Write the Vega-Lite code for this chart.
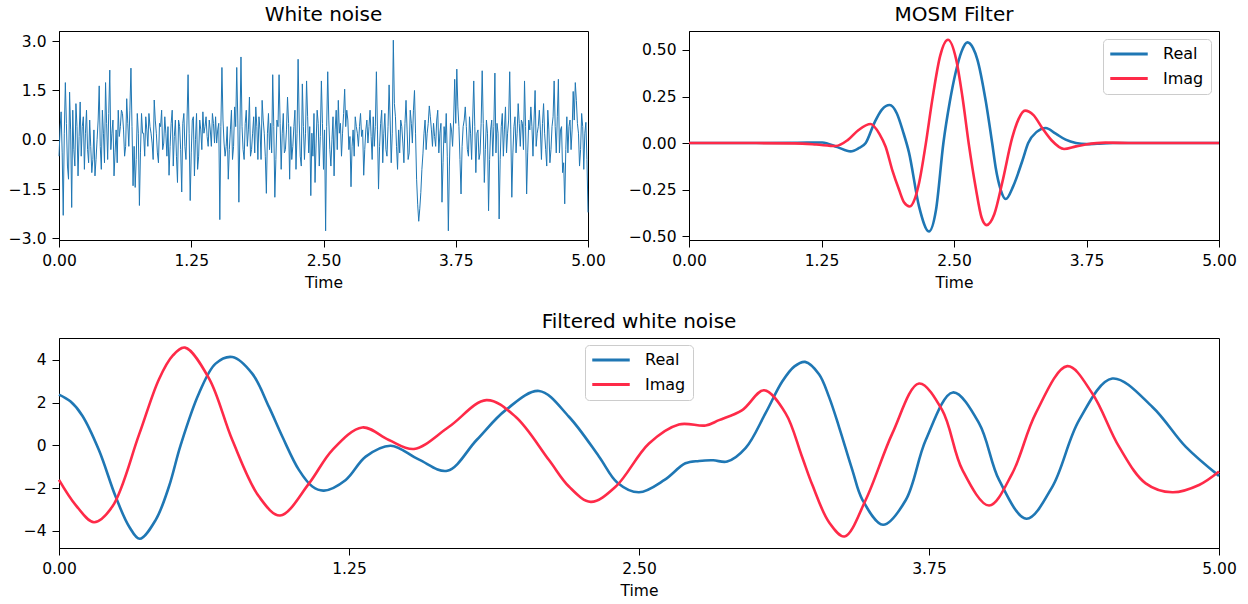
{
 "$schema": "https://vega.github.io/schema/vega-lite/v6.json",
 "background": "white",
 "padding": {"left": 7, "top": 4, "right": 5, "bottom": 5},
 "config": {
  "font": "DejaVu Sans",
  "view": {"stroke": "black", "strokeWidth": 1},
  "axis": {"domainColor": "black", "domainWidth": 1, "tickColor": "black", "tickWidth": 1, "tickSize": 7, "labelPadding": 6, "labelFontSize": 15.5, "labelColor": "black", "titleFontSize": 15.5, "titleFontWeight": "normal", "titleColor": "black", "titlePadding": 7, "grid": false, "labelFlush": false, "labelOverlap": false},
  "title": {"fontSize": 20, "fontWeight": "normal", "color": "black", "baseline": "alphabetic", "offset": 6, "anchor": "middle"},
  "legend": {"fillColor": "rgba(255,255,255,0.8)", "strokeColor": "#cccccc", "cornerRadius": 4, "padding": 7, "symbolSize": 156, "symbolStrokeWidth": 3, "symbolOffset": 11, "labelOffset": 26, "labelFontSize": 16, "labelColor": "black", "rowPadding": 8.5}
 },
 "datasets": {
  "noise": [
   {"t":0.00,"y":-0.5},{"t":0.01,"y":0.3},{"t":0.02,"y":0.85},{"t":0.03,"y":-0.4},{"t":0.04,"y":-2.3},{"t":0.05,"y":0.2},{"t":0.06,"y":1.74},{"t":0.07,"y":0.5},{"t":0.08,"y":-0.8},{"t":0.09,"y":-1.2},
   {"t":0.10,"y":1.45},{"t":0.11,"y":0.3},{"t":0.12,"y":-2.06},{"t":0.13,"y":0.9},{"t":0.14,"y":-0.3},{"t":0.15,"y":-0.8},{"t":0.16,"y":1.1},{"t":0.17,"y":0.4},{"t":0.18,"y":-1.1},{"t":0.19,"y":0.1},
   {"t":0.20,"y":1.15},{"t":0.21,"y":-0.5},{"t":0.22,"y":0.4},{"t":0.23,"y":0.7},{"t":0.24,"y":-0.9},{"t":0.25,"y":0.2},{"t":0.26,"y":0.9},{"t":0.27,"y":-0.3},{"t":0.28,"y":-0.7},{"t":0.29,"y":0.6},
   {"t":0.30,"y":-0.2},{"t":0.31,"y":-1.0},{"t":0.32,"y":-0.6},{"t":0.33,"y":0.3},{"t":0.34,"y":-1.1},{"t":0.35,"y":-0.6},{"t":0.36,"y":0.0},{"t":0.37,"y":0.6},{"t":0.38,"y":1.64},{"t":0.39,"y":-0.2},
   {"t":0.40,"y":-0.9},{"t":0.41,"y":0.9},{"t":0.42,"y":0.2},{"t":0.43,"y":-0.7},{"t":0.44,"y":1.74},{"t":0.45,"y":0.5},{"t":0.46,"y":-0.6},{"t":0.47,"y":0.8},{"t":0.48,"y":2.12},{"t":0.49,"y":-0.3},
   {"t":0.50,"y":0.2},{"t":0.51,"y":0.6},{"t":0.52,"y":-1.1},{"t":0.53,"y":-0.4},{"t":0.54,"y":0.3},{"t":0.55,"y":-0.7},{"t":0.56,"y":0.9},{"t":0.57,"y":0.1},{"t":0.58,"y":0.4},{"t":0.59,"y":0.9},
   {"t":0.60,"y":0.8},{"t":0.61,"y":0.3},{"t":0.62,"y":-0.5},{"t":0.63,"y":-0.2},{"t":0.64,"y":1.25},{"t":0.65,"y":0.5},{"t":0.66,"y":-0.2},{"t":0.67,"y":0.9},{"t":0.68,"y":2.18},{"t":0.69,"y":0.4},
   {"t":0.70,"y":-1.4},{"t":0.71,"y":-0.2},{"t":0.72,"y":-1.45},{"t":0.73,"y":-0.6},{"t":0.74,"y":0.8},{"t":0.75,"y":0.2},{"t":0.76,"y":-2.0},{"t":0.77,"y":-0.4},{"t":0.78,"y":0.8},{"t":0.79,"y":0.2},
   {"t":0.80,"y":0.2},{"t":0.81,"y":-0.5},{"t":0.82,"y":0.7},{"t":0.83,"y":0.3},{"t":0.84,"y":-0.2},{"t":0.85,"y":0.8},{"t":0.86,"y":0.4},{"t":0.87,"y":0.2},{"t":0.88,"y":-0.1},{"t":0.89,"y":-0.6},
   {"t":0.90,"y":1.21},{"t":0.91,"y":0.6},{"t":0.92,"y":0.2},{"t":0.93,"y":-0.4},{"t":0.94,"y":-0.7},{"t":0.95,"y":0.5},{"t":0.96,"y":0.4},{"t":0.97,"y":0.9},{"t":0.98,"y":-0.3},{"t":0.99,"y":-0.1},
   {"t":1.00,"y":0.7},{"t":1.01,"y":0.2},{"t":1.02,"y":-0.5},{"t":1.03,"y":0.4},{"t":1.04,"y":-1.08},{"t":1.05,"y":-0.2},{"t":1.06,"y":0.5},{"t":1.07,"y":0.9},{"t":1.08,"y":-0.8},{"t":1.09,"y":0.1},
   {"t":1.10,"y":0.6},{"t":1.11,"y":-0.5},{"t":1.12,"y":-1.3},{"t":1.13,"y":0.6},{"t":1.14,"y":0.4},{"t":1.15,"y":-0.3},{"t":1.16,"y":-1.59},{"t":1.17,"y":0.5},{"t":1.18,"y":0.8},{"t":1.19,"y":-0.2},
   {"t":1.20,"y":-0.6},{"t":1.21,"y":0.6},{"t":1.22,"y":1.98},{"t":1.23,"y":0.2},{"t":1.24,"y":-1.85},{"t":1.25,"y":-0.4},{"t":1.26,"y":0.6},{"t":1.27,"y":0.7},{"t":1.28,"y":-1.1},{"t":1.29,"y":0.0},
   {"t":1.30,"y":0.8},{"t":1.31,"y":-0.9},{"t":1.32,"y":-0.5},{"t":1.33,"y":0.6},{"t":1.34,"y":0.3},{"t":1.35,"y":-0.3},{"t":1.36,"y":0.85},{"t":1.37,"y":0.2},{"t":1.38,"y":0.4},{"t":1.39,"y":0.7},
   {"t":1.40,"y":0.1},{"t":1.41,"y":-0.2},{"t":1.42,"y":0.6},{"t":1.43,"y":0.3},{"t":1.44,"y":-0.2},{"t":1.45,"y":0.8},{"t":1.46,"y":0.5},{"t":1.47,"y":-0.1},{"t":1.48,"y":0.7},{"t":1.49,"y":-0.1},
   {"t":1.50,"y":0.3},{"t":1.51,"y":0.5},{"t":1.52,"y":-2.43},{"t":1.53,"y":0.4},{"t":1.54,"y":2.2},{"t":1.55,"y":0.6},{"t":1.56,"y":-0.1},{"t":1.57,"y":-0.5},{"t":1.58,"y":-0.2},{"t":1.59,"y":0.4},
   {"t":1.60,"y":-1.2},{"t":1.61,"y":-0.3},{"t":1.62,"y":0.3},{"t":1.63,"y":0.9},{"t":1.64,"y":-0.6},{"t":1.65,"y":-0.2},{"t":1.66,"y":1.0},{"t":1.67,"y":0.4},{"t":1.68,"y":2.2},{"t":1.69,"y":0.6},
   {"t":1.70,"y":-1.9},{"t":1.71,"y":0.3},{"t":1.72,"y":2.52},{"t":1.73,"y":0.4},{"t":1.74,"y":-0.3},{"t":1.75,"y":-0.6},{"t":1.76,"y":0.5},{"t":1.77,"y":0.9},{"t":1.78,"y":-0.2},{"t":1.79,"y":0.3},
   {"t":1.80,"y":1.3},{"t":1.81,"y":-0.5},{"t":1.82,"y":-0.3},{"t":1.83,"y":0.2},{"t":1.84,"y":0.7},{"t":1.85,"y":-0.4},{"t":1.86,"y":1.0},{"t":1.87,"y":0.4},{"t":1.88,"y":-0.6},{"t":1.89,"y":0.7},
   {"t":1.90,"y":0.3},{"t":1.91,"y":-0.6},{"t":1.92,"y":1.2},{"t":1.93,"y":0.6},{"t":1.94,"y":0.2},{"t":1.95,"y":-0.5},{"t":1.96,"y":-1.63},{"t":1.97,"y":0.2},{"t":1.98,"y":0.8},{"t":1.99,"y":-0.3},
   {"t":2.00,"y":0.5},{"t":2.01,"y":-0.4},{"t":2.02,"y":1.98},{"t":2.03,"y":0.4},{"t":2.04,"y":-1.75},{"t":2.05,"y":-0.6},{"t":2.06,"y":0.6},{"t":2.07,"y":0.4},{"t":2.08,"y":1.98},{"t":2.09,"y":0.5},
   {"t":2.10,"y":-0.9},{"t":2.11,"y":0.2},{"t":2.12,"y":0.8},{"t":2.13,"y":-0.4},{"t":2.14,"y":-0.3},{"t":2.15,"y":0.3},{"t":2.16,"y":1.3},{"t":2.17,"y":0.5},{"t":2.18,"y":-1.2},{"t":2.19,"y":0.4},
   {"t":2.20,"y":-0.6},{"t":2.21,"y":-0.2},{"t":2.22,"y":0.4},{"t":2.23,"y":0.9},{"t":2.24,"y":-0.9},{"t":2.25,"y":0.2},{"t":2.26,"y":2.45},{"t":2.27,"y":0.6},{"t":2.28,"y":-0.5},{"t":2.29,"y":-0.8},
   {"t":2.30,"y":1.7},{"t":2.31,"y":0.4},{"t":2.32,"y":-0.6},{"t":2.33,"y":0.2},{"t":2.34,"y":1.79},{"t":2.35,"y":0.7},{"t":2.36,"y":-0.4},{"t":2.37,"y":0.4},{"t":2.38,"y":-1.7},{"t":2.39,"y":0.2},
   {"t":2.40,"y":-0.5},{"t":2.41,"y":0.8},{"t":2.42,"y":-1.3},{"t":2.43,"y":-0.1},{"t":2.44,"y":0.9},{"t":2.45,"y":0.5},{"t":2.46,"y":-0.8},{"t":2.47,"y":0.1},{"t":2.48,"y":1.79},{"t":2.49,"y":0.5},
   {"t":2.50,"y":-0.9},{"t":2.51,"y":0.3},{"t":2.52,"y":-2.77},{"t":2.53,"y":0.4},{"t":2.54,"y":2.07},{"t":2.55,"y":0.6},{"t":2.56,"y":-0.3},{"t":2.57,"y":-0.8},{"t":2.58,"y":0.0},{"t":2.59,"y":0.7},
   {"t":2.60,"y":-1.1},{"t":2.61,"y":0.3},{"t":2.62,"y":0.9},{"t":2.63,"y":-0.3},{"t":2.64,"y":1.2},{"t":2.65,"y":0.2},{"t":2.66,"y":0.5},{"t":2.67,"y":-0.5},{"t":2.68,"y":0.2},{"t":2.69,"y":0.8},
   {"t":2.70,"y":1.54},{"t":2.71,"y":0.4},{"t":2.72,"y":0.9},{"t":2.73,"y":0.6},{"t":2.74,"y":-0.3},{"t":2.75,"y":0.1},{"t":2.76,"y":-1.43},{"t":2.77,"y":-0.2},{"t":2.78,"y":0.3},{"t":2.79,"y":-0.5},
   {"t":2.80,"y":0.7},{"t":2.81,"y":0.4},{"t":2.82,"y":0.2},{"t":2.83,"y":-0.2},{"t":2.84,"y":0.4},{"t":2.85,"y":0.8},{"t":2.86,"y":0.1},{"t":2.87,"y":0.3},{"t":2.88,"y":-1.08},{"t":2.89,"y":-0.3},
   {"t":2.90,"y":0.3},{"t":2.91,"y":0.6},{"t":2.92,"y":-0.1},{"t":2.93,"y":0.4},{"t":2.94,"y":0.9},{"t":2.95,"y":0.1},{"t":2.96,"y":-0.6},{"t":2.97,"y":0.7},{"t":2.98,"y":-0.2},{"t":2.99,"y":0.4},
   {"t":3.00,"y":2.07},{"t":3.01,"y":0.3},{"t":3.02,"y":-1.5},{"t":3.03,"y":-0.2},{"t":3.04,"y":0.5},{"t":3.05,"y":0.9},{"t":3.06,"y":-0.7},{"t":3.07,"y":0.2},{"t":3.08,"y":0.8},{"t":3.09,"y":-0.3},
   {"t":3.10,"y":-0.5},{"t":3.11,"y":0.4},{"t":3.12,"y":1.67},{"t":3.13,"y":0.6},{"t":3.14,"y":-0.7},{"t":3.15,"y":0.2},{"t":3.16,"y":3.03},{"t":3.17,"y":1.1},{"t":3.18,"y":0.7},{"t":3.19,"y":-0.2},
   {"t":3.20,"y":-0.9},{"t":3.21,"y":0.3},{"t":3.22,"y":-0.4},{"t":3.23,"y":0.6},{"t":3.24,"y":0.4},{"t":3.25,"y":-0.1},{"t":3.26,"y":-0.7},{"t":3.27,"y":0.5},{"t":3.28,"y":1.2},{"t":3.29,"y":0.3},
   {"t":3.30,"y":-0.6},{"t":3.31,"y":-0.4},{"t":3.32,"y":0.9},{"t":3.33,"y":0.5},{"t":3.34,"y":-0.1},{"t":3.35,"y":0.9},{"t":3.36,"y":1.5},{"t":3.37,"y":0.2},{"t":3.38,"y":-1.2},{"t":3.39,"y":-1.96},
   {"t":3.40,"y":-2.48},{"t":3.41,"y":-2.1},{"t":3.42,"y":-1.6},{"t":3.43,"y":-0.9},{"t":3.44,"y":-0.43},{"t":3.45,"y":0.2},{"t":3.46,"y":0.6},{"t":3.47,"y":-0.3},{"t":3.48,"y":0.2},{"t":3.49,"y":0.5},
   {"t":3.50,"y":1.03},{"t":3.51,"y":0.7},{"t":3.52,"y":0.3},{"t":3.53,"y":-0.2},{"t":3.54,"y":0.5},{"t":3.55,"y":0.1},{"t":3.56,"y":-0.2},{"t":3.57,"y":0.6},{"t":3.58,"y":0.9},{"t":3.59,"y":-0.4},
   {"t":3.60,"y":0.2},{"t":3.61,"y":0.5},{"t":3.62,"y":-1.9},{"t":3.63,"y":-0.7},{"t":3.64,"y":0.4},{"t":3.65,"y":-0.1},{"t":3.66,"y":0.8},{"t":3.67,"y":-0.5},{"t":3.68,"y":-2.77},{"t":3.69,"y":-0.8},
   {"t":3.70,"y":0.5},{"t":3.71,"y":0.3},{"t":3.72,"y":-0.2},{"t":3.73,"y":0.6},{"t":3.74,"y":1.84},{"t":3.75,"y":0.5},{"t":3.76,"y":2.15},{"t":3.77,"y":1.0},{"t":3.78,"y":0.4},{"t":3.79,"y":-0.6},
   {"t":3.80,"y":-1.65},{"t":3.81,"y":-0.2},{"t":3.82,"y":0.4},{"t":3.83,"y":0.6},{"t":3.84,"y":1.0},{"t":3.85,"y":0.4},{"t":3.86,"y":-0.3},{"t":3.87,"y":-0.5},{"t":3.88,"y":0.7},{"t":3.89,"y":0.2},
   {"t":3.90,"y":-0.6},{"t":3.91,"y":0.6},{"t":3.92,"y":1.79},{"t":3.93,"y":0.4},{"t":3.94,"y":-1.0},{"t":3.95,"y":0.2},{"t":3.96,"y":0.3},{"t":3.97,"y":-0.6},{"t":3.98,"y":-0.4},{"t":3.99,"y":0.5},
   {"t":4.00,"y":2.1},{"t":4.01,"y":0.5},{"t":4.02,"y":-1.3},{"t":4.03,"y":-0.3},{"t":4.04,"y":0.6},{"t":4.05,"y":0.2},{"t":4.06,"y":-2.16},{"t":4.07,"y":-0.6},{"t":4.08,"y":0.3},{"t":4.09,"y":0.6},
   {"t":4.10,"y":-0.5},{"t":4.11,"y":0.4},{"t":4.12,"y":2.03},{"t":4.13,"y":-0.4},{"t":4.14,"y":0.5},{"t":4.15,"y":0.2},{"t":4.16,"y":-2.41},{"t":4.17,"y":-0.6},{"t":4.18,"y":0.4},{"t":4.19,"y":0.8},
   {"t":4.20,"y":-0.5},{"t":4.21,"y":0.3},{"t":4.22,"y":1.0},{"t":4.23,"y":-0.4},{"t":4.24,"y":0.2},{"t":4.25,"y":0.6},{"t":4.26,"y":2.07},{"t":4.27,"y":0.3},{"t":4.28,"y":-1.75},{"t":4.29,"y":-0.4},
   {"t":4.30,"y":0.4},{"t":4.31,"y":0.7},{"t":4.32,"y":-0.4},{"t":4.33,"y":0.2},{"t":4.34,"y":1.1},{"t":4.35,"y":0.5},{"t":4.36,"y":-0.2},{"t":4.37,"y":0.6},{"t":4.38,"y":0.5},{"t":4.39,"y":-0.3},
   {"t":4.40,"y":1.79},{"t":4.41,"y":0.4},{"t":4.42,"y":-1.65},{"t":4.43,"y":-0.4},{"t":4.44,"y":0.6},{"t":4.45,"y":0.3},{"t":4.46,"y":1.0},{"t":4.47,"y":0.4},{"t":4.48,"y":-0.5},{"t":4.49,"y":0.6},
   {"t":4.50,"y":1.5},{"t":4.51,"y":-0.2},{"t":4.52,"y":0.2},{"t":4.53,"y":0.4},{"t":4.54,"y":0.9},{"t":4.55,"y":0.3},{"t":4.56,"y":-0.6},{"t":4.57,"y":0.5},{"t":4.58,"y":1.1},{"t":4.59,"y":0.2},
   {"t":4.60,"y":-0.3},{"t":4.61,"y":-0.8},{"t":4.62,"y":0.9},{"t":4.63,"y":0.3},{"t":4.64,"y":-0.7},{"t":4.65,"y":-0.3},{"t":4.66,"y":0.4},{"t":4.67,"y":0.7},{"t":4.68,"y":1.79},{"t":4.69,"y":0.4},
   {"t":4.70,"y":-0.4},{"t":4.71,"y":0.7},{"t":4.72,"y":1.84},{"t":4.73,"y":-0.4},{"t":4.74,"y":0.3},{"t":4.75,"y":0.4},{"t":4.76,"y":-1.0},{"t":4.77,"y":-0.7},{"t":4.78,"y":-1.95},{"t":4.79,"y":-0.3},
   {"t":4.80,"y":0.7},{"t":4.81,"y":-0.4},{"t":4.82,"y":0.4},{"t":4.83,"y":0.6},{"t":4.84,"y":-0.3},{"t":4.85,"y":0.3},{"t":4.86,"y":1.47},{"t":4.87,"y":0.6},{"t":4.88,"y":1.74},{"t":4.89,"y":1.2},
   {"t":4.90,"y":0.5},{"t":4.91,"y":0.2},{"t":4.92,"y":-0.8},{"t":4.93,"y":-0.3},{"t":4.94,"y":0.8},{"t":4.95,"y":0.4},{"t":4.96,"y":-0.9},{"t":4.97,"y":0.2},{"t":4.98,"y":0.53},{"t":4.99,"y":-0.6},
   {"t":5.00,"y":-2.21}
  ],
  "filter": [
   {"t":0,"v":0,"part":"Real"},{"t":0.5,"v":0,"part":"Real"},{"t":1.0,"v":0.001,"part":"Real"},{"t":1.258,"v":0.003,"part":"Real"},{"t":1.4,"v":-0.022,"part":"Real"},{"t":1.525,"v":-0.045,"part":"Real"},{"t":1.6,"v":-0.028,"part":"Real"},{"t":1.667,"v":0.0,"part":"Real"},{"t":1.75,"v":0.11,"part":"Real"},{"t":1.82,"v":0.18,"part":"Real"},{"t":1.893,"v":0.204,"part":"Real"},{"t":1.96,"v":0.16,"part":"Real"},{"t":2.02,"v":0.06,"part":"Real"},{"t":2.075,"v":-0.05,"part":"Real"},{"t":2.17,"v":-0.34,"part":"Real"},{"t":2.264,"v":-0.475,"part":"Real"},{"t":2.33,"v":-0.36,"part":"Real"},{"t":2.4,"v":0.0,"part":"Real"},{"t":2.46,"v":0.22,"part":"Real"},{"t":2.516,"v":0.38,"part":"Real"},{"t":2.57,"v":0.49,"part":"Real"},{"t":2.626,"v":0.541,"part":"Real"},{"t":2.68,"v":0.51,"part":"Real"},{"t":2.72,"v":0.45,"part":"Real"},{"t":2.799,"v":0.227,"part":"Real"},{"t":2.86,"v":0.0,"part":"Real"},{"t":2.893,"v":-0.131,"part":"Real"},{"t":2.94,"v":-0.25,"part":"Real"},{"t":2.988,"v":-0.301,"part":"Real"},{"t":3.06,"v":-0.23,"part":"Real"},{"t":3.145,"v":-0.095,"part":"Real"},{"t":3.2,"v":0.0,"part":"Real"},{"t":3.28,"v":0.06,"part":"Real"},{"t":3.365,"v":0.081,"part":"Real"},{"t":3.46,"v":0.05,"part":"Real"},{"t":3.553,"v":0.018,"part":"Real"},{"t":3.65,"v":0.0,"part":"Real"},{"t":3.75,"v":-0.006,"part":"Real"},{"t":3.85,"v":-0.004,"part":"Real"},{"t":4.0,"v":0.0,"part":"Real"},{"t":5.0,"v":0.0,"part":"Real"},
   {"t":0,"v":0,"part":"Imag"},{"t":0.5,"v":0,"part":"Imag"},{"t":1.0,"v":-0.002,"part":"Imag"},{"t":1.2,"v":-0.008,"part":"Imag"},{"t":1.384,"v":-0.016,"part":"Imag"},{"t":1.5,"v":0.017,"part":"Imag"},{"t":1.6,"v":0.07,"part":"Imag"},{"t":1.714,"v":0.102,"part":"Imag"},{"t":1.8,"v":0.045,"part":"Imag"},{"t":1.855,"v":-0.02,"part":"Imag"},{"t":1.92,"v":-0.15,"part":"Imag"},{"t":1.981,"v":-0.25,"part":"Imag"},{"t":2.03,"v":-0.32,"part":"Imag"},{"t":2.082,"v":-0.341,"part":"Imag"},{"t":2.13,"v":-0.3,"part":"Imag"},{"t":2.17,"v":-0.216,"part":"Imag"},{"t":2.233,"v":-0.007,"part":"Imag"},{"t":2.295,"v":0.232,"part":"Imag"},{"t":2.37,"v":0.47,"part":"Imag"},{"t":2.443,"v":0.555,"part":"Imag"},{"t":2.52,"v":0.45,"part":"Imag"},{"t":2.579,"v":0.25,"part":"Imag"},{"t":2.64,"v":-0.007,"part":"Imag"},{"t":2.705,"v":-0.24,"part":"Imag"},{"t":2.76,"v":-0.4,"part":"Imag"},{"t":2.808,"v":-0.441,"part":"Imag"},{"t":2.88,"v":-0.383,"part":"Imag"},{"t":2.956,"v":-0.21,"part":"Imag"},{"t":3.05,"v":0.03,"part":"Imag"},{"t":3.11,"v":0.13,"part":"Imag"},{"t":3.17,"v":0.174,"part":"Imag"},{"t":3.25,"v":0.15,"part":"Imag"},{"t":3.333,"v":0.08,"part":"Imag"},{"t":3.42,"v":0.015,"part":"Imag"},{"t":3.538,"v":-0.032,"part":"Imag"},{"t":3.65,"v":-0.018,"part":"Imag"},{"t":3.742,"v":-0.008,"part":"Imag"},{"t":3.93,"v":0.002,"part":"Imag"},{"t":4.2,"v":0.0,"part":"Imag"},{"t":5.0,"v":0.0,"part":"Imag"}
  ],
  "filtered": [
   {"t":0,"v":2.38,"part":"Real"},{"t":0.05,"v":2.05,"part":"Real"},{"t":0.1,"v":1.4,"part":"Real"},{"t":0.172,"v":-0.22,"part":"Real"},{"t":0.244,"v":-2.4,"part":"Real"},{"t":0.302,"v":-3.8,"part":"Real"},{"t":0.348,"v":-4.38,"part":"Real"},{"t":0.417,"v":-3.49,"part":"Real"},{"t":0.474,"v":-1.93,"part":"Real"},{"t":0.524,"v":0.0,"part":"Real"},{"t":0.603,"v":2.43,"part":"Real"},{"t":0.675,"v":3.83,"part":"Real"},{"t":0.747,"v":4.14,"part":"Real"},{"t":0.833,"v":3.36,"part":"Real"},{"t":0.905,"v":1.8,"part":"Real"},{"t":0.963,"v":0.4,"part":"Real"},{"t":1.034,"v":-1.15,"part":"Real"},{"t":1.092,"v":-1.93,"part":"Real"},{"t":1.142,"v":-2.12,"part":"Real"},{"t":1.236,"v":-1.62,"part":"Real"},{"t":1.322,"v":-0.53,"part":"Real"},{"t":1.43,"v":-0.02,"part":"Real"},{"t":1.55,"v":-0.66,"part":"Real"},{"t":1.674,"v":-1.19,"part":"Real"},{"t":1.8,"v":0.25,"part":"Real"},{"t":1.925,"v":1.65,"part":"Real"},{"t":2.069,"v":2.55,"part":"Real"},{"t":2.198,"v":1.34,"part":"Real"},{"t":2.328,"v":-0.53,"part":"Real"},{"t":2.407,"v":-1.75,"part":"Real"},{"t":2.5,"v":-2.2,"part":"Real"},{"t":2.61,"v":-1.62,"part":"Real"},{"t":2.7,"v":-0.84,"part":"Real"},{"t":2.759,"v":-0.73,"part":"Real"},{"t":2.82,"v":-0.7,"part":"Real"},{"t":2.88,"v":-0.76,"part":"Real"},{"t":2.96,"v":-0.12,"part":"Real"},{"t":3.046,"v":1.52,"part":"Real"},{"t":3.118,"v":3.0,"part":"Real"},{"t":3.17,"v":3.7,"part":"Real"},{"t":3.216,"v":3.91,"part":"Real"},{"t":3.276,"v":3.33,"part":"Real"},{"t":3.319,"v":2.27,"part":"Real"},{"t":3.362,"v":0.87,"part":"Real"},{"t":3.42,"v":-1.17,"part":"Real"},{"t":3.463,"v":-2.55,"part":"Real"},{"t":3.552,"v":-3.72,"part":"Real"},{"t":3.65,"v":-2.56,"part":"Real"},{"t":3.736,"v":0.25,"part":"Real"},{"t":3.853,"v":2.48,"part":"Real"},{"t":3.966,"v":1.03,"part":"Real"},{"t":4.052,"v":-1.62,"part":"Real"},{"t":4.17,"v":-3.44,"part":"Real"},{"t":4.282,"v":-1.93,"part":"Real"},{"t":4.397,"v":1.18,"part":"Real"},{"t":4.54,"v":3.13,"part":"Real"},{"t":4.713,"v":1.8,"part":"Real"},{"t":4.856,"v":-0.06,"part":"Real"},{"t":5.0,"v":-1.43,"part":"Real"},
   {"t":0,"v":-1.62,"part":"Imag"},{"t":0.072,"v":-2.8,"part":"Imag"},{"t":0.151,"v":-3.6,"part":"Imag"},{"t":0.23,"v":-2.87,"part":"Imag"},{"t":0.345,"v":0.5,"part":"Imag"},{"t":0.431,"v":3.1,"part":"Imag"},{"t":0.49,"v":4.2,"part":"Imag"},{"t":0.543,"v":4.58,"part":"Imag"},{"t":0.647,"v":3.13,"part":"Imag"},{"t":0.747,"v":0.25,"part":"Imag"},{"t":0.862,"v":-2.4,"part":"Imag"},{"t":0.953,"v":-3.29,"part":"Imag"},{"t":1.078,"v":-1.78,"part":"Imag"},{"t":1.178,"v":-0.22,"part":"Imag"},{"t":1.307,"v":0.84,"part":"Imag"},{"t":1.422,"v":0.25,"part":"Imag"},{"t":1.53,"v":-0.17,"part":"Imag"},{"t":1.681,"v":0.87,"part":"Imag"},{"t":1.842,"v":2.12,"part":"Imag"},{"t":1.968,"v":1.34,"part":"Imag"},{"t":2.112,"v":-0.69,"part":"Imag"},{"t":2.198,"v":-1.93,"part":"Imag"},{"t":2.292,"v":-2.65,"part":"Imag"},{"t":2.4,"v":-1.93,"part":"Imag"},{"t":2.543,"v":0.09,"part":"Imag"},{"t":2.672,"v":0.98,"part":"Imag"},{"t":2.787,"v":0.93,"part":"Imag"},{"t":2.845,"v":1.18,"part":"Imag"},{"t":2.945,"v":1.65,"part":"Imag"},{"t":3.039,"v":2.58,"part":"Imag"},{"t":3.132,"v":1.5,"part":"Imag"},{"t":3.2,"v":-0.45,"part":"Imag"},{"t":3.247,"v":-1.85,"part":"Imag"},{"t":3.319,"v":-3.6,"part":"Imag"},{"t":3.386,"v":-4.27,"part":"Imag"},{"t":3.477,"v":-2.56,"part":"Imag"},{"t":3.592,"v":0.56,"part":"Imag"},{"t":3.707,"v":2.9,"part":"Imag"},{"t":3.807,"v":1.65,"part":"Imag"},{"t":3.894,"v":-1.15,"part":"Imag"},{"t":4.009,"v":-2.82,"part":"Imag"},{"t":4.109,"v":-1.31,"part":"Imag"},{"t":4.21,"v":1.5,"part":"Imag"},{"t":4.346,"v":3.71,"part":"Imag"},{"t":4.454,"v":2.43,"part":"Imag"},{"t":4.569,"v":-0.06,"part":"Imag"},{"t":4.684,"v":-1.78,"part":"Imag"},{"t":4.799,"v":-2.2,"part":"Imag"},{"t":4.914,"v":-1.86,"part":"Imag"},{"t":5.0,"v":-1.23,"part":"Imag"}
  ]
 },
 "vconcat": [
  {
   "hconcat": [
    {
     "title": "White noise",
     "width": 529, "height": 209,
     "data": {"name": "noise"},
     "mark": {"type": "line", "strokeWidth": 1, "color": "#1f77b4"},
     "encoding": {
      "x": {"field": "t", "type": "quantitative", "title": "Time", "scale": {"domain": [0, 5], "nice": false, "zero": false}, "axis": {"values": [0, 1.25, 2.5, 3.75, 5], "format": ".2f"}},
      "y": {"field": "y", "type": "quantitative", "title": null, "scale": {"domain": [-3.05, 3.31], "nice": false, "zero": false}, "axis": {"values": [-3, -1.5, 0, 1.5, 3], "format": ".1f"}}
     }
    },
    {
     "title": "MOSM Filter",
     "width": 530, "height": 209,
     "data": {"name": "filter"},
     "mark": {"type": "line", "strokeWidth": 2.6, "interpolate": "monotone"},
     "encoding": {
      "x": {"field": "t", "type": "quantitative", "title": "Time", "scale": {"domain": [0, 5], "nice": false, "zero": false}, "axis": {"values": [0, 1.25, 2.5, 3.75, 5], "format": ".2f"}},
      "y": {"field": "v", "type": "quantitative", "title": null, "scale": {"domain": [-0.521, 0.602], "nice": false, "zero": false}, "axis": {"values": [-0.5, -0.25, 0, 0.25, 0.5], "format": ".2f"}},
      "color": {"field": "part", "type": "nominal", "scale": {"domain": ["Real", "Imag"], "range": ["#1f77b4", "#fe2a48"]}, "legend": {"title": null, "orient": "top-right", "offset": 8, "symbolType": "M-3,0H3"}}
     }
    }
   ],
   "spacing": 101,
   "bounds": "flush",
   "resolve": {"scale": {"color": "independent", "x": "independent", "y": "independent"}, "legend": {"color": "independent"}}
  },
  {
   "title": "Filtered white noise",
   "width": 1160, "height": 210,
   "data": {"name": "filtered"},
   "mark": {"type": "line", "strokeWidth": 2.6, "interpolate": "catmull-rom"},
   "encoding": {
    "x": {"field": "t", "type": "quantitative", "title": "Time", "scale": {"domain": [0, 5], "nice": false, "zero": false}, "axis": {"values": [0, 1.25, 2.5, 3.75, 5], "format": ".2f"}},
    "y": {"field": "v", "type": "quantitative", "title": null, "scale": {"domain": [-4.81, 5.03], "nice": false, "zero": false}, "axis": {"values": [-4, -2, 0, 2, 4], "format": "d"}},
    "color": {"field": "part", "type": "nominal", "scale": {"domain": ["Real", "Imag"], "range": ["#1f77b4", "#fe2a48"]}, "legend": {"title": null, "orient": "none", "legendX": 526, "legendY": 7, "symbolType": "M-3,0H3"}}
   }
  }
 ],
 "spacing": 19,
 "resolve": {"scale": {"color": "independent", "x": "independent", "y": "independent"}, "legend": {"color": "independent"}}
}
